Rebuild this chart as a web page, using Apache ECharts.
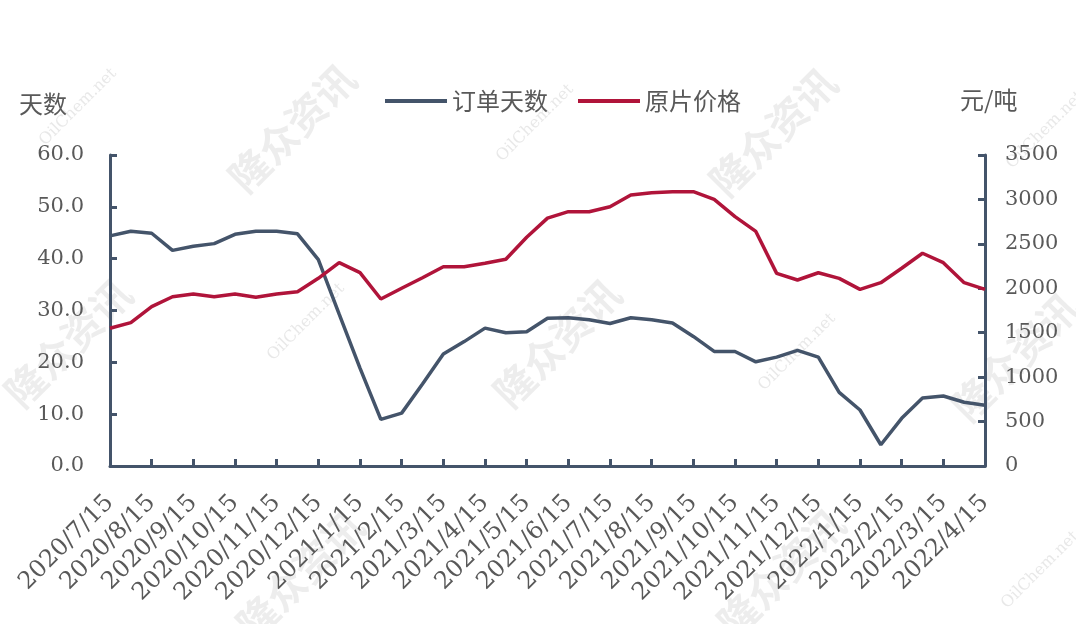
<!DOCTYPE html>
<html>
<head>
<meta charset="utf-8">
<script src="https://cdn.jsdelivr.net/npm/echarts@6/dist/echarts.min.js"></script>
<style>
html,body{margin:0;padding:0;background:#fff;}
#chart{width:1076px;height:624px;}
</style>
</head>
<body>
<div id="chart"></div>
<script>
const categories = [
  "2020/7/15","2020/7/31","2020/8/15","2020/8/31","2020/9/15","2020/9/30",
  "2020/10/15","2020/10/31","2020/11/15","2020/11/30","2020/12/15","2020/12/31",
  "2021/1/15","2021/1/31","2021/2/15","2021/2/28","2021/3/15","2021/3/31",
  "2021/4/15","2021/4/30","2021/5/15","2021/5/31","2021/6/15","2021/6/30",
  "2021/7/15","2021/7/31","2021/8/15","2021/8/31","2021/9/15","2021/9/30",
  "2021/10/15","2021/10/31","2021/11/15","2021/11/30","2021/12/15","2021/12/31",
  "2022/1/15","2022/1/31","2022/2/15","2022/2/28","2022/3/15","2022/3/31",
  "2022/4/15"
];
const orderDays = [
  44.4, 45.3, 44.9, 41.6, 42.4, 42.9, 44.7, 45.3, 45.3, 44.8, 39.8, 29.3,
  18.9, 9.0, 10.2, 15.8, 21.6, 24.0, 26.6, 25.7, 25.9, 28.5,
  28.6, 28.2, 27.5, 28.6, 28.2, 27.6, 25.0, 22.1, 22.1, 20.1,
  21.0, 22.3, 21.0, 14.2, 10.8, 4.1, 9.2, 13.1, 13.5, 12.3, 11.7
];
const sheetPrice = [
  1550, 1613, 1793, 1905, 1936, 1905, 1936, 1898, 1936, 1962, 2112, 2288,
  2176, 1879, 2000, 2119, 2243, 2243, 2281, 2326, 2574, 2790,
  2862, 2862, 2918, 3050, 3076, 3087, 3087, 3001, 2806, 2640,
  2168, 2093, 2175, 2112, 1988, 2063, 2225, 2394, 2288, 2063, 1988
];
const seriesNames = ["订单天数", "原片价格"];
const leftUnit = "天数";
const rightUnit = "元/吨";
const watermarkCN = "隆众资讯";
const watermarkEN = "OilChem.net";

const axisColor = "#44546A";
const textColor = "#595959";
const serif = "DejaVu Serif";
const cjk = "Noto Sans CJK SC";

const chart = echarts.init(document.getElementById("chart"), null, {renderer: "canvas"});

const wmCN = [[292,128],[773,132],[68,343],[557,343],[1015,357],[300,575],[781,573]];
const wmEN = [[78,107],[535,123],[1045,130],[306,322],[797,352],[1040,570]];
const graphics = [];
wmCN.forEach(p => graphics.push({
  type: "text", x: p[0], y: p[1], rotation: Math.PI/4, z: -10,
  style: {text: watermarkCN, fill: "rgba(190,190,190,0.28)", font: "bold 40px " + cjk,
          textAlign: "center", textVerticalAlign: "middle"}
}));
wmEN.forEach(p => graphics.push({
  type: "text", x: p[0], y: p[1], rotation: Math.PI/4, z: -10,
  style: {text: watermarkEN, fill: "rgba(190,190,190,0.35)", font: "16px " + serif,
          textAlign: "center", textVerticalAlign: "middle"}
}));
graphics.push({
  type: "text", left: 19, top: 92,
  style: {text: leftUnit, fill: textColor, font: "24px " + cjk}
});
graphics.push({
  type: "text", left: 960, top: 88,
  style: {text: rightUnit, fill: textColor, font: "24px " + cjk}
});

chart.setOption({
  backgroundColor: "#ffffff",
  animation: false,
  graphic: graphics,
  legend: {
    left: 380, top: 84,
    itemWidth: 62, itemHeight: 4, itemGap: 30,
    icon: "rect",
    textStyle: {color: textColor, fontFamily: cjk, fontSize: 24, padding: [0,0,0,0]},
    data: seriesNames
  },
  grid: {left: 110, right: 91, top: 155, bottom: 158, containLabel: false},
  xAxis: {
    type: "category",
    data: categories,
    boundaryGap: false,
    axisLine: {show: true, lineStyle: {color: axisColor, width: 3}},
    axisTick: {show: true, inside: true, interval: 1, length: 7, lineStyle: {color: axisColor, width: 3}},
    axisLabel: {interval: 1, rotate: 45, margin: 33, color: textColor, fontFamily: serif, fontSize: 24},
    splitLine: {show: false}
  },
  yAxis: [
    {
      type: "value", min: 0, max: 60, interval: 10, position: "left",
      axisLine: {show: true, lineStyle: {color: axisColor, width: 3}},
      axisTick: {show: true, inside: true, length: 7, lineStyle: {color: axisColor, width: 3}},
      axisLabel: {margin: 26, color: textColor, fontFamily: serif, fontSize: 21,
                  formatter: v => v.toFixed(1)},
      splitLine: {show: false}
    },
    {
      type: "value", min: 0, max: 3500, interval: 500, position: "right",
      alignTicks: false,
      axisLine: {show: true, lineStyle: {color: axisColor, width: 3}},
      axisTick: {show: true, inside: true, length: 7, lineStyle: {color: axisColor, width: 3}},
      axisLabel: {margin: 20, color: textColor, fontFamily: serif, fontSize: 21,
                  formatter: v => String(v)},
      splitLine: {show: false}
    }
  ],
  series: [
    {
      name: seriesNames[0], type: "line", yAxisIndex: 0, data: orderDays,
      symbol: "none", color: "#44546A",
      lineStyle: {color: "#44546A", width: 3.5}, z: 3
    },
    {
      name: seriesNames[1], type: "line", yAxisIndex: 1, data: sheetPrice,
      symbol: "none", color: "#B0143A",
      lineStyle: {color: "#B0143A", width: 3.5}, z: 3
    }
  ]
});
</script>
</body>
</html>
